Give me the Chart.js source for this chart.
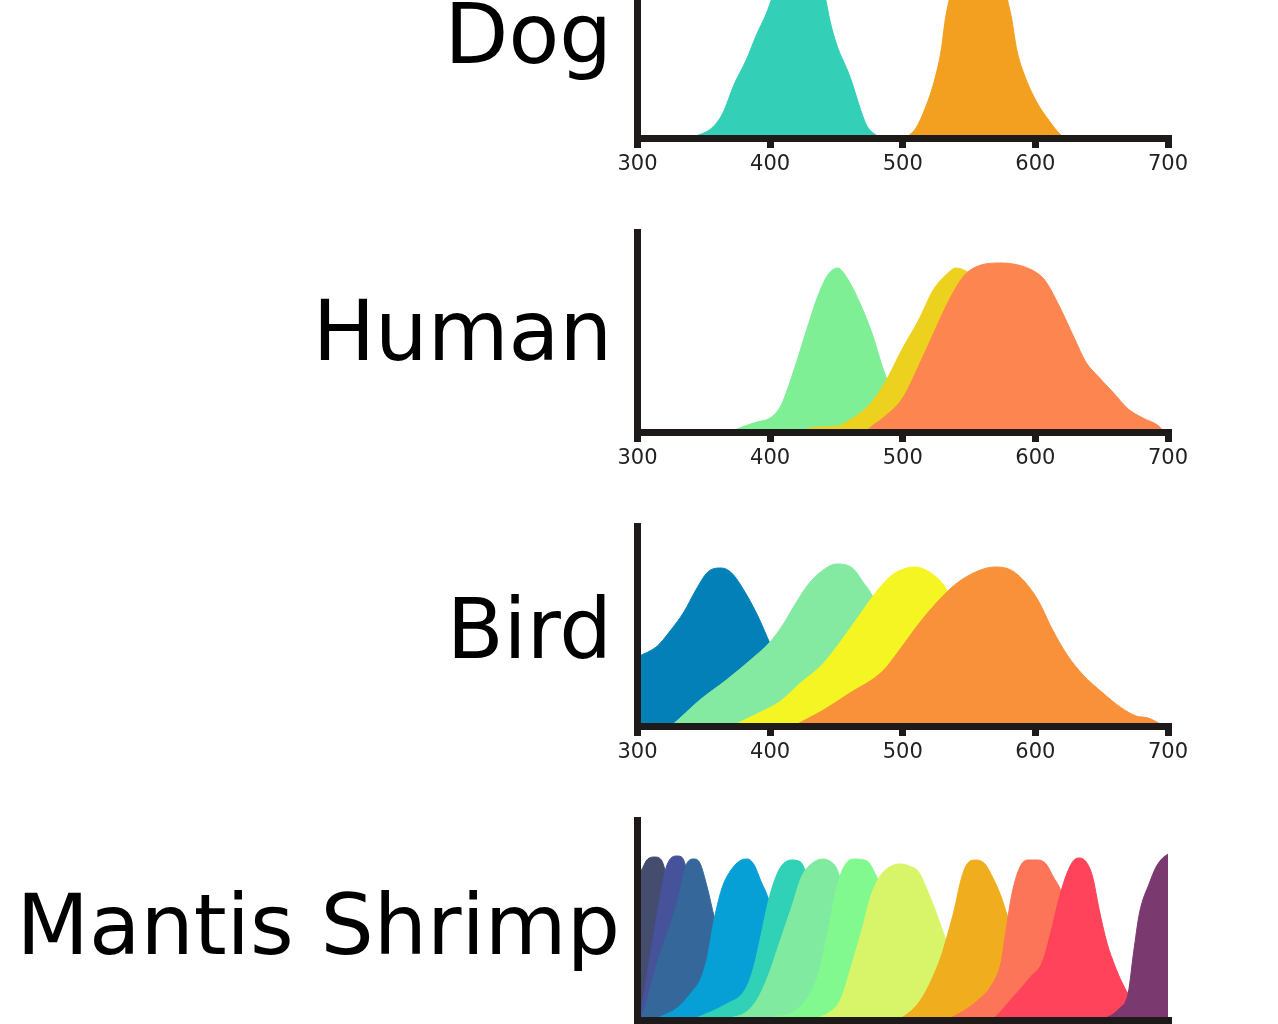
<!DOCTYPE html>
<html>
<head>
<meta charset="utf-8">
<script src="https://cdn.jsdelivr.net/npm/chart.js@4"></script>
<style>
  html, body { margin: 0; padding: 0; background: #fff; }
  body { width: 1278px; height: 1024px; overflow: hidden; position: relative; font-family: 'DejaVu Sans', sans-serif; }
  .label { position: absolute; font-size: 83px; line-height: 83px; color: #000; white-space: nowrap; text-align: right; }
  .panel { position: absolute; left: 600px; }
</style>
</head>
<body>
<script>
/* global Chart */

// wavelength (nm), relative sensitivity
const xTicks = [300, 400, 500, 600, 700]

const dogS = [[340, 0], [344, 0.01], [356, 0.05], [364, 0.12], [373, 0.27], [382, 0.39], [390, 0.52], [397, 0.62], [402, 0.71], [408, 0.81], [414, 0.88], [420, 0.92], [426, 0.93], [432, 0.91], [438, 0.81], [442, 0.69], [445, 0.59], [450, 0.47], [460, 0.31], [471, 0.09], [474, 0.05], [481, 0.01], [484, 0]]
const dogL = [[501, 0], [504, 0.01], [510, 0.05], [517, 0.15], [524, 0.29], [529, 0.44], [532, 0.59], [535, 0.69], [540, 0.82], [548, 0.9], [556, 0.93], [566, 0.92], [574, 0.84], [579, 0.69], [582, 0.6], [586, 0.44], [592, 0.31], [601, 0.18], [610, 0.09], [620, 0.01], [623, 0]]

const humanS = [[370, 0], [377, 0.02], [390, 0.05], [400, 0.07], [408, 0.13], [416, 0.27], [428, 0.52], [436, 0.68], [444, 0.79], [451, 0.82], [458, 0.77], [468, 0.64], [477, 0.49], [486, 0.3], [495, 0.16], [505, 0.07], [520, 0.03], [540, 0.01], [555, 0]]
const humanM = [[425, 0], [430, 0.02], [451, 0.03], [460, 0.06], [474, 0.13], [486, 0.24], [500, 0.42], [512, 0.56], [523, 0.71], [535, 0.8], [540, 0.82], [549, 0.8], [560, 0.74], [580, 0.58], [600, 0.38], [620, 0.2], [640, 0.08], [660, 0.02], [675, 0]]
const humanL = [[472, 0], [475, 0.02], [486, 0.075], [500, 0.17], [512, 0.33], [523, 0.49], [535, 0.66], [546, 0.78], [555, 0.825], [572, 0.845], [587, 0.835], [600, 0.8], [607, 0.76], [618, 0.63], [630, 0.46], [638, 0.35], [647, 0.28], [659, 0.195], [670, 0.115], [681, 0.07], [693, 0.03], [697, 0]]

const birdUV = [[300, 0.345], [315, 0.4], [324, 0.47], [335, 0.57], [344, 0.68], [353, 0.77], [363, 0.79], [371, 0.765], [381, 0.67], [390, 0.56], [400, 0.41], [410, 0.25], [420, 0.12], [430, 0.05], [440, 0.01], [450, 0]]
const birdS = [[325, 0], [327, 0.01], [347, 0.13], [367, 0.23], [387, 0.34], [400, 0.42], [410, 0.51], [419, 0.61], [429, 0.71], [439, 0.775], [450, 0.81], [462, 0.79], [470, 0.72], [477, 0.65], [485, 0.5], [500, 0.3], [520, 0.12], [540, 0.04], [560, 0]]
const birdM = [[372, 0], [376, 0.015], [393, 0.07], [407, 0.12], [422, 0.21], [439, 0.305], [454, 0.43], [468, 0.56], [480, 0.67], [491, 0.75], [503, 0.79], [510, 0.795], [520, 0.77], [529, 0.72], [536, 0.65], [550, 0.5], [570, 0.3], [590, 0.12], [610, 0.03], [630, 0]]
const birdL = [[418, 0], [422, 0.015], [439, 0.075], [459, 0.16], [485, 0.275], [497, 0.375], [512, 0.51], [526, 0.62], [540, 0.71], [555, 0.77], [569, 0.795], [584, 0.77], [601, 0.64], [613, 0.48], [624, 0.355], [636, 0.255], [650, 0.17], [665, 0.09], [676, 0.05], [685, 0.04], [693, 0.015], [697, 0]]

const mantis1 = [[300, 0.73], [303, 0.75], [307, 0.8], [313, 0.815], [318, 0.8], [325, 0.62], [335, 0.32], [345, 0.1], [355, 0.02], [365, 0]]
const mantis2 = [[300, 0], [303, 0.07], [312, 0.42], [322, 0.77], [330, 0.82], [334, 0.81], [340, 0.66], [350, 0.4], [360, 0.2], [370, 0.07], [380, 0]]
const mantis3 = [[300, 0], [303, 0.02], [315, 0.29], [330, 0.59], [337, 0.78], [342.5, 0.805], [347, 0.785], [352.5, 0.665], [358, 0.51], [365, 0.35], [375, 0.15], [385, 0.05], [395, 0]]
const mantis4 = [[312, 0], [315, 0.01], [330, 0.06], [341, 0.14], [348, 0.21], [352.5, 0.31], [358, 0.51], [364, 0.665], [370, 0.745], [377, 0.795], [383, 0.805], [388, 0.775], [393, 0.695], [398.5, 0.61], [405, 0.45], [415, 0.25], [425, 0.1], [435, 0.03], [445, 0]]
const mantis5 = [[340, 0], [344, 0.01], [367, 0.08], [381, 0.15], [387, 0.25], [393, 0.42], [398.5, 0.59], [404, 0.71], [408.5, 0.77], [416, 0.8], [423, 0.79], [427, 0.74], [435, 0.6], [445, 0.4], [455, 0.2], [465, 0.08], [475, 0.02], [485, 0]]
const mantis6 = [[366, 0], [370, 0.01], [381, 0.035], [390, 0.1], [398.5, 0.22], [407, 0.385], [416, 0.56], [424, 0.72], [433, 0.79], [440, 0.805], [447, 0.785], [450, 0.76], [460, 0.55], [470, 0.35], [480, 0.17], [490, 0.06], [500, 0.01], [505, 0]]
const mantis7 = [[395, 0], [398.5, 0.01], [416, 0.035], [427, 0.1], [436, 0.22], [444, 0.455], [450, 0.66], [456, 0.77], [463, 0.805], [473, 0.795], [480, 0.72], [490, 0.55], [500, 0.38], [510, 0.22], [520, 0.1], [530, 0.03], [540, 0]]
const mantis8 = [[430, 0], [433, 0.005], [444, 0.035], [453, 0.1], [462, 0.285], [470, 0.47], [476, 0.62], [483, 0.72], [490, 0.765], [497.5, 0.78], [505, 0.77], [512, 0.74], [519, 0.64], [525, 0.54], [532, 0.41], [540, 0.28], [550, 0.15], [560, 0.06], [570, 0.02], [580, 0]]
const mantis9 = [[495, 0], [499, 0.01], [513, 0.095], [522, 0.205], [529, 0.32], [533.5, 0.42], [539, 0.555], [543.5, 0.69], [548, 0.775], [555, 0.8], [562, 0.78], [568, 0.71], [574, 0.62], [579, 0.52], [590, 0.35], [600, 0.2], [610, 0.08], [620, 0.02], [630, 0]]
const mantis10 = [[532, 0], [536, 0.01], [556, 0.095], [568, 0.185], [574, 0.285], [578, 0.455], [582, 0.62], [588, 0.76], [594, 0.8], [602, 0.8], [608, 0.78], [614, 0.71], [618, 0.665], [630, 0.45], [640, 0.25], [650, 0.1], [660, 0.03], [670, 0]]
const mantis11 = [[566, 0], [568, 0.005], [582, 0.105], [597, 0.22], [605, 0.285], [611, 0.42], [617, 0.585], [622.5, 0.71], [628, 0.79], [632.5, 0.81], [637, 0.8], [643, 0.72], [648, 0.555], [654, 0.385], [660, 0.27], [665.5, 0.185], [670, 0.13], [680, 0.05], [690, 0.01], [700, 0]]
const mantis12 = [[648, 0], [651, 0.005], [663, 0.055], [670, 0.135], [674, 0.335], [678.5, 0.535], [686, 0.685], [691, 0.765], [696, 0.81], [700, 0.83]]

const panelNames = ['Dog', 'Human', 'Bird', 'Mantis Shrimp']
const panelCurves = [
  [dogS, dogL],
  [humanS, humanM, humanL],
  [birdUV, birdS, birdM, birdL],
  [mantis1, mantis2, mantis3, mantis4, mantis5, mantis6, mantis7, mantis8, mantis9, mantis10, mantis11, mantis12]
]
const panelColors = [
  ['#33cfb6', '#f3a020'],
  ['#7fef96', '#ecd21f', '#fd8550'],
  ['#0480b8', '#84eaa2', '#f5f523', '#f8913a'],
  ['#454d6e', '#46529a', '#35679a', '#06a0d6', '#30d1b7', '#80eaa0', '#82f98f', '#d8f56a', '#f0ae1f', '#fd7558', '#fe435a', '#7a3a6f']
]

const AXIS = '#1e1a1a'
const PANEL_STEP = 294
const FIRST_TOP = -82
const LABEL_STEP = 297.3

function addLabel (text, top, right, size) {
  const el = document.createElement('div')
  el.className = 'label'
  el.textContent = text
  el.style.top = top + 'px'
  el.style.right = right + 'px'
  el.style.fontSize = size + 'px'
  document.body.appendChild(el)
}

function buildPanel (idx) {
  const top = FIRST_TOP + idx * PANEL_STEP
  const canvas = document.createElement('canvas')
  canvas.className = 'panel'
  canvas.width = 620
  canvas.height = 270
  canvas.style.top = top + 'px'
  document.body.appendChild(canvas)

  const name = panelNames[idx]
  const labelTop = FIRST_TOP + 75 + idx * LABEL_STEP
  if (name === 'Mantis Shrimp') addLabel(name, labelTop - 1, 658, 84)
  else addLabel(name, labelTop, 666, 83)

  const colors = panelColors[idx]
  const datasets = panelCurves[idx].map((curve, i) => ({
    data: curve.map(p => ({ x: p[0], y: p[1] })),
    backgroundColor: colors[i],
    borderColor: colors[i],
    borderWidth: 1,
    pointRadius: 0,
    fill: 'origin',
    cubicInterpolationMode: 'monotone',
    order: -i
  }))

  return new Chart(canvas.getContext('2d'), {
    type: 'line',
    data: { datasets },
    options: {
      responsive: false,
      animation: false,
      events: [],
      layout: { padding: { left: 37.5, right: 52, top: 20, bottom: 0 } },
      plugins: { legend: { display: false }, tooltip: { enabled: false } },
      scales: {
        x: {
          type: 'linear',
          min: 300,
          max: 700,
          afterFit: s => { s.height = 50 },
          afterBuildTicks: s => { s.ticks = xTicks.map(v => ({ value: v })) },
          ticks: { color: '#222', font: { family: 'DejaVu Sans', size: 21 }, padding: 4, maxRotation: 0, autoSkip: false },
          grid: { display: true, drawOnChartArea: false, drawTicks: true, tickLength: 10, lineWidth: 7, color: AXIS },
          border: { display: true, width: 7, color: AXIS, z: 1 }
        },
        y: {
          min: 0,
          max: 1,
          afterFit: s => { s.width = 0 },
          ticks: { display: false },
          grid: { display: false },
          border: { display: true, width: 7, color: AXIS, z: 1 }
        }
      }
    }
  })
}

panelNames.forEach((n, i) => buildPanel(i))
</script>
</body>
</html>
